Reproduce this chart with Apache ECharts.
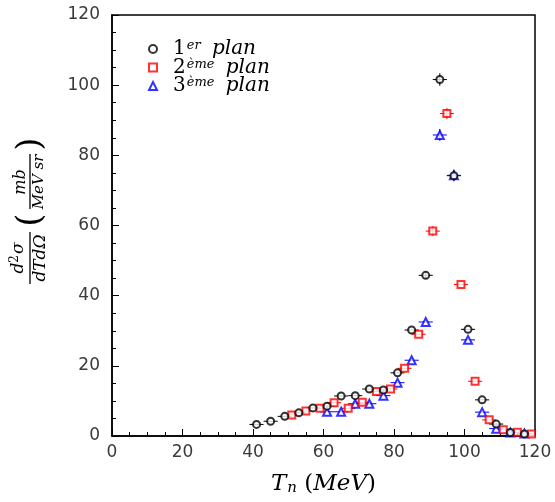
<!DOCTYPE html>
<html><head><meta charset="utf-8">
<script src="https://cdn.jsdelivr.net/npm/echarts@6/dist/echarts.min.js"></script>
<style>html,body{margin:0;padding:0;background:#fff}#c{width:555px;height:502px}</style>
</head><body><div id="c"></div>
<script>
// Series 1 : 1er plan
const x1 = [41,45,49,53,57,61,65,69,73,77,81,85,89,93,97,101,105,109,113,117];
const y1 = [3.3,4.2,5.6,6.6,8.0,8.5,11.4,11.5,13.4,13.1,18.0,30.2,45.8,101.6,74.2,30.4,10.3,3.4,1.0,0.6];
const e1 = [0,0,0,0,0,0,0,0,0,0,0,0,1.0,1.8,1.6,0,0,0,0,0];
// Series 2 : 2eme plan
const x2 = [51,55,59,63,67,71,75,79,83,87,91,95,99,103,107,111,115,119];
const y2 = [6.0,7.1,7.9,9.5,7.9,9.6,12.7,13.4,19.3,29.0,58.4,91.9,43.2,15.6,4.6,1.8,1.1,0.6];
const e2 = [0,0,0,0,0,0,0,0,0,0,1.4,1.6,0,0,0,0,0,0];
// Series 3 : 3eme plan
const x3 = [61,65,69,73,77,81,85,89,93,97,101,105,109,113,117];
const y3 = [6.9,6.9,9.2,9.2,11.5,15.2,21.6,32.5,85.8,74.3,27.4,6.8,2.1,1.0,0.7];
const e3 = [0,0,0,0,0,0,0,0,1.7,1.6,0,0,0,0,0];
const xErr = 2;
const xTicks = [0,20,40,60,80,100,120];
const yTicks = [0,20,40,60,80,100,120];

const chart = echarts.init(document.getElementById('c'), null, {renderer:'canvas'});
const serif = "'DejaVu Serif', 'Liberation Serif', serif";

function pts(xs, ys){ return xs.map((x,i)=>[x, ys[i]]); }
function errs(xs, ys, es){ return xs.map((x,i)=>[x, ys[i], xErr, es[i]]); }
function errSeries(data, color){
  return {
    type:'custom', data: data, clip:true, z:2, silent:true,
    renderItem:function(params, api){
      const x=api.value(0), y=api.value(1), ex=api.value(2), ey=api.value(3);
      const l=api.coord([x-ex,y]), r=api.coord([x+ex,y]);
      const ch=[{type:'line', shape:{x1:l[0],y1:l[1],x2:r[0],y2:r[1]}, style:{stroke:color,lineWidth:1}}];
      if(ey>0){
        const t=api.coord([x,y+ey]), b=api.coord([x,y-ey]);
        ch.push({type:'line', shape:{x1:t[0],y1:t[1],x2:b[0],y2:b[1]}, style:{stroke:color,lineWidth:1}});
      }
      return {type:'group', children:ch};
    }
  };
}
const names = {p1:'{n|1}{s|er}{b| plan}', p2:'{n|2}{s|ème}{b| plan}', p3:'{n|3}{s|ème}{b| plan}'};

const option = {
  animation:false,
  backgroundColor:'#fff',
  grid:{left:112, right:20, top:15, bottom:66, show:true, borderColor:'#000', borderWidth:1.5},
  legend:{
    orient:'vertical', left:143, top:34, itemWidth:8, itemHeight:8, itemGap:-1.5,
    data:['p1','p2','p3'],
    formatter:function(n){ return names[n]; },
    textStyle:{
      fontFamily:serif, fontSize:20, color:'#000', lineHeight:19,
      rich:{
        n:{fontFamily:serif, fontSize:20, color:'#000', lineHeight:19, padding:[0,0,0,11]},
        b:{fontFamily:serif, fontStyle:'italic', fontSize:20, color:'#000', lineHeight:19},
        s:{fontFamily:serif, fontStyle:'italic', fontSize:13, color:'#000', lineHeight:12, verticalAlign:'top', padding:[0,5,0,1]}
      }
    }
  },
  xAxis:{
    type:'value', min:0, max:120, interval:20,
    axisLine:{show:true, lineStyle:{color:'#000', width:1.5}},
    axisTick:{show:true, inside:true, length:7, lineStyle:{color:'#000', width:1}},
    minorTick:{show:true, splitNumber:4, length:4, lineStyle:{color:'#000', width:1}},
    splitLine:{show:false},
    axisLabel:{margin:8, fontFamily:"'DejaVu Sans', sans-serif", fontSize:17, color:'#3a3a3a',
      formatter:function(v){ return xTicks.indexOf(v)>=0 ? String(v) : ''; }},
    name:'{i|T}{sub|n}{p| (}{i|MeV}{p|)}', nameLocation:'middle', nameGap:36,
    nameTextStyle:{fontFamily:serif, fontSize:23, color:'#000',
      rich:{
        i:{fontFamily:serif, fontStyle:'italic', fontSize:23, color:'#000'},
        p:{fontFamily:serif, fontSize:23, color:'#000'},
        sub:{fontFamily:serif, fontStyle:'italic', fontSize:15, color:'#000', padding:[9,0,0,1]}
      }}
  },
  yAxis:{
    type:'value', min:0, max:120, interval:20,
    axisLine:{show:true, lineStyle:{color:'#000', width:1.5}},
    axisTick:{show:true, inside:true, length:7, lineStyle:{color:'#000', width:1}},
    minorTick:{show:true, splitNumber:4, length:4, lineStyle:{color:'#000', width:1}},
    splitLine:{show:false},
    axisLabel:{margin:12, fontFamily:"'DejaVu Sans', sans-serif", fontSize:17, color:'#3a3a3a',
      formatter:function(v){ return yTicks.indexOf(v)>=0 ? String(v) : ''; }}
  },
  graphic:[{
    type:'group', x:30, y:284, rotation:Math.PI/2, silent:true,
    children:[
      {type:'line', shape:{x1:0,y1:0,x2:52,y2:0}, style:{stroke:'#000', lineWidth:1.3}},
      {type:'text', x:26, y:-1, style:{text:'{i|d}{s|2}{i|σ}', align:'center', verticalAlign:'bottom',
        rich:{i:{fontFamily:serif, fontStyle:'italic', fontSize:17, fill:'#000'},
              s:{fontFamily:serif, fontSize:12, fill:'#000', padding:[0,1,8,0]}}}},
      {type:'text', x:26, y:2, style:{text:'dTdΩ', align:'center', verticalAlign:'top',
        font:"italic 17px 'DejaVu Serif', serif", fill:'#000'}},
      {type:'text', x:64, y:1, style:{text:'(', align:'center', verticalAlign:'middle',
        font:"34px 'DejaVu Serif', serif", fill:'#000'}},
      {type:'line', shape:{x1:75,y1:0,x2:130,y2:0}, style:{stroke:'#000', lineWidth:1.3}},
      {type:'text', x:102, y:-1, style:{text:'mb', align:'center', verticalAlign:'bottom',
        font:"italic 16px 'DejaVu Serif', serif", fill:'#000'}},
      {type:'text', x:102, y:2, style:{text:'MeV sr', align:'center', verticalAlign:'top',
        font:"italic 15px 'DejaVu Serif', serif", fill:'#000'}},
      {type:'text', x:140, y:1, style:{text:')', align:'center', verticalAlign:'middle',
        font:"34px 'DejaVu Serif', serif", fill:'#000'}}
    ]
  }],
  series:[
    errSeries(errs(x1,y1,e1), '#000'),
    errSeries(errs(x2,y2,e2), '#ff0000'),
    errSeries(errs(x3,y3,e3), '#0000ff'),
    {name:'p1', type:'scatter', data:pts(x1,y1), symbol:'emptyCircle', symbolSize:7, z:5, clip:true,
      itemStyle:{color:'#000', borderColor:'#000', borderWidth:1}},
    {name:'p2', type:'scatter', data:pts(x2,y2), symbol:'emptyRect', symbolSize:7, z:4, clip:true,
      itemStyle:{color:'#ff0000', borderColor:'#ff0000', borderWidth:1}},
    {name:'p3', type:'scatter', data:pts(x3,y3), symbol:'emptyTriangle', symbolSize:8, z:3, clip:true,
      itemStyle:{color:'#0000ff', borderColor:'#0000ff', borderWidth:1}}
  ]
};
chart.setOption(option);
</script>
</body></html>
